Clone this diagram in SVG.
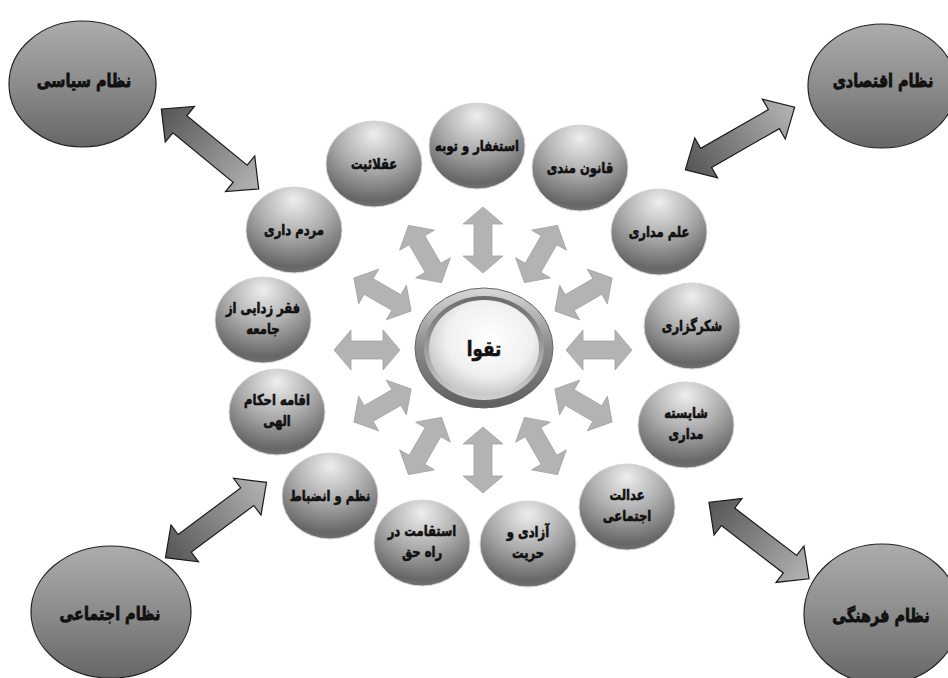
<svg xmlns="http://www.w3.org/2000/svg" width="948" height="678" viewBox="0 0 948 678">
<defs>
<radialGradient id="sphere" cx="50%" cy="22%" r="85%" fx="50%" fy="15%">
<stop offset="0" stop-color="#eeeeee"/>
<stop offset="0.45" stop-color="#acacac"/>
<stop offset="0.85" stop-color="#666"/>
<stop offset="1" stop-color="#808080"/>
</radialGradient>
<linearGradient id="big" x1="0" y1="0" x2="0" y2="1">
<stop offset="0" stop-color="#acacac"/>
<stop offset="0.5" stop-color="#8c8c8c"/>
<stop offset="1" stop-color="#666"/>
</linearGradient>
<linearGradient id="carrow" x1="0" y1="0" x2="1" y2="0">
<stop offset="0" stop-color="#555"/>
<stop offset="1" stop-color="#b4b4b4"/>
</linearGradient>
<linearGradient id="ring" x1="0" y1="0" x2="0" y2="1">
<stop offset="0" stop-color="#d8d8d8"/>
<stop offset="0.5" stop-color="#8a8a8a"/>
<stop offset="1" stop-color="#5e5e5e"/>
</linearGradient>
<linearGradient id="ring2" x1="0" y1="0" x2="0" y2="1">
<stop offset="0" stop-color="#6a6a6a"/>
<stop offset="1" stop-color="#d0d0d0"/>
</linearGradient>
<radialGradient id="core" cx="55%" cy="40%" r="65%">
<stop offset="0" stop-color="#ffffff"/>
<stop offset="0.6" stop-color="#f0f0f0"/>
<stop offset="1" stop-color="#bdbdbd"/>
</radialGradient>
<polygon id="ia" points="-33,0 -16,-20 -16,-9 16,-9 16,-20 33,0 16,20 16,9 -16,9 -16,20"/>
<polygon id="ca" points="-63,0 -39,-23 -39,-11 39,-11 39,-23 63,0 39,23 39,11 -39,11 -39,23"/>
</defs>
<style>
text{font-family:"DejaVu Sans","Noto Sans",sans-serif;font-weight:bold;fill:#111;stroke:#111;stroke-width:0.6;text-anchor:middle}
.t{font-size:15px}
.b{font-size:18px;stroke-width:0.8}
.s{fill:url(#sphere);stroke:#d6d6d6;stroke-width:1}
.g{fill:url(#big);stroke:#222;stroke-width:1.2}
.ia{fill:#b3b3b3;stroke:#a2a2a2;stroke-width:0.8}
.ca{fill:url(#carrow);stroke:#1a1a1a;stroke-width:1.2}
</style>
<rect width="948" height="678" fill="#fff"/>

<g id="connectors">
<use href="#ca" class="ca" transform="translate(210,149) rotate(39.4)"/>
<use href="#ca" class="ca" transform="translate(740,138.5) rotate(-29.8)"/>
<use href="#ca" class="ca" transform="translate(216,520) rotate(-36.7)"/>
<use href="#ca" class="ca" transform="translate(759,540.5) rotate(37.4)"/>
<use href="#ia" class="ia" transform="translate(599,350)"/>
<use href="#ia" class="ia" transform="translate(583.5,294.5) rotate(-30)"/>
<use href="#ia" class="ia" transform="translate(541,254) rotate(-60)"/>
<use href="#ia" class="ia" transform="translate(483,240) rotate(90)"/>
<use href="#ia" class="ia" transform="translate(425,254) rotate(60)"/>
<use href="#ia" class="ia" transform="translate(382.5,294.5) rotate(30)"/>
<use href="#ia" class="ia" transform="translate(367,350)"/>
<use href="#ia" class="ia" transform="translate(382.5,405.5) rotate(-30)"/>
<use href="#ia" class="ia" transform="translate(425,446) rotate(-60)"/>
<use href="#ia" class="ia" transform="translate(483,460) rotate(90)"/>
<use href="#ia" class="ia" transform="translate(541,446) rotate(60)"/>
<use href="#ia" class="ia" transform="translate(583.5,405.5) rotate(30)"/>
</g>

<g id="n-siasi"><ellipse class="g" cx="82.5" cy="84" rx="73.5" ry="63"/><text class="b" transform="translate(84,87) scale(0.8,1)">نظام سیاسی</text></g>
<g id="n-eqtesadi"><ellipse class="g" cx="882" cy="86" rx="74" ry="62"/><text class="b" transform="translate(883,87) scale(0.8,1)">نظام اقتصادی</text></g>
<g id="n-ejtemai"><ellipse class="g" cx="111" cy="612" rx="80" ry="66"/><text class="b" transform="translate(110,620) scale(0.8,1)">نظام اجتماعی</text></g>
<g id="n-farhangi"><ellipse class="g" cx="882" cy="614" rx="78" ry="70"/><text class="b" transform="translate(881,622) scale(0.8,1)">نظام فرهنگی</text></g>

<g id="n-center">
<ellipse cx="484" cy="348" rx="69" ry="60" fill="url(#ring)" stroke="#666" stroke-width="1"/>
<ellipse cx="484" cy="348" rx="60" ry="52" fill="url(#ring2)"/>
<ellipse cx="484" cy="348" rx="55" ry="48" fill="url(#core)"/>
<text transform="translate(484,356) scale(0.8,1)" style="font-size:21px">تقوا</text>
</g>

<g id="n-aqlaniat"><ellipse class="s" cx="374" cy="164" rx="48" ry="43"/><text class="t" transform="translate(374,169) scale(0.77,1)">عقلائیت</text></g>
<g id="n-estighfar"><ellipse class="s" cx="477" cy="146" rx="48" ry="43"/><text class="t" transform="translate(477,151) scale(0.77,1)">استغفار و توبه</text></g>
<g id="n-qanun"><ellipse class="s" cx="580" cy="168" rx="48" ry="43"/><text class="t" transform="translate(580,173) scale(0.77,1)">قانون مندی</text></g>
<g id="n-elm"><ellipse class="s" cx="659" cy="232" rx="48" ry="43"/><text class="t" transform="translate(659,237) scale(0.77,1)">علم مداری</text></g>
<g id="n-shokr"><ellipse class="s" cx="692" cy="326" rx="48" ry="43"/><text class="t" transform="translate(692,331) scale(0.77,1)">شکرگزاری</text></g>
<g id="n-shayeste"><ellipse class="s" cx="686" cy="425" rx="48" ry="43"/><text class="t" transform="translate(686,418) scale(0.77,1)">شایسته<tspan x="0" dy="21">مداری</tspan></text></g>
<g id="n-edalat"><ellipse class="s" cx="627" cy="507" rx="48" ry="43"/><text class="t" transform="translate(627,500) scale(0.77,1)">عدالت<tspan x="0" dy="21">اجتماعی</tspan></text></g>
<g id="n-azadi"><ellipse class="s" cx="528" cy="544" rx="48" ry="43"/><text class="t" transform="translate(528,537) scale(0.77,1)">آزادی و<tspan x="0" dy="21">حریت</tspan></text></g>
<g id="n-esteqamat"><ellipse class="s" cx="422" cy="543" rx="48" ry="43"/><text class="t" transform="translate(422,536) scale(0.77,1)">استقامت در<tspan x="0" dy="21">راه حق</tspan></text></g>
<g id="n-nazm"><ellipse class="s" cx="330" cy="496" rx="48" ry="43"/><text class="t" transform="translate(330,501) scale(0.77,1)">نظم و انضباط</text></g>
<g id="n-eqame"><ellipse class="s" cx="277" cy="412" rx="48" ry="43"/><text class="t" transform="translate(277,405) scale(0.77,1)">اقامه احکام<tspan x="0" dy="21">الهی</tspan></text></g>
<g id="n-faqr"><ellipse class="s" cx="263" cy="320" rx="48" ry="43"/><text class="t" transform="translate(263,313) scale(0.77,1)">فقر زدایی از<tspan x="0" dy="21">جامعه</tspan></text></g>
<g id="n-mardom"><ellipse class="s" cx="294" cy="230" rx="48" ry="43"/><text class="t" transform="translate(294,235) scale(0.77,1)">مردم داری</text></g>
</svg>
